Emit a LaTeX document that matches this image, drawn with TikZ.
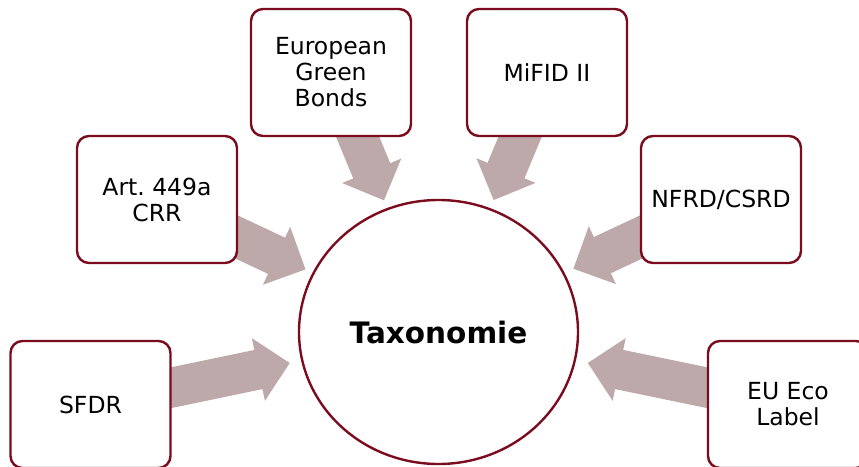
\documentclass[tikz,border=0pt]{standalone}
\usepackage{fontspec}
\setmainfont{DejaVu Sans}
\frenchspacing
\usetikzlibrary{calc,backgrounds,shapes.geometric}
\definecolor{boxred}{RGB}{123,12,30}
\definecolor{arrowrose}{RGB}{190,169,170}
\tikzset{
  srcbox/.style={draw=boxred, line width=2.4pt, fill=white, rounded corners=12pt,
    minimum width=160pt, minimum height=127pt, inner sep=0pt, align=center,
    font=\fontsize{23.5pt}{26pt}\selectfont},
  hub/.style={ellipse, draw=boxred, line width=2.4pt, fill=white,
    minimum width=279pt, minimum height=264pt, inner sep=0pt,
    font=\fontsize{29.5pt}{34pt}\selectfont\bfseries},
  arrowshaft/.style={draw=arrowrose, line width=40pt, line cap=butt},
  arrowhead/.style={fill=arrowrose}
}
\newcommand\blockarr[2]{%
  \coordinate (h#2) at ($(#2)!32pt!(#1.center)$);
  \draw[arrowshaft] (#1.center) -- ($(#2)!31pt!(#1.center)$);
  \fill[arrowhead] (#2) -- ($(h#2)!32pt!90:(#2)$) -- ($(h#2)!32pt!-90:(#2)$) -- cycle;
}
\begin{document}
\begin{tikzpicture}[x=1pt,y=-1pt]
\useasboundingbox (0,0) rectangle (859,466);
\node[hub] (tax) at (438.5,332) {Taxonomie};
\node[srcbox] (art) at (157,199.5) {Art. 449a\\CRR};
\node[srcbox] (sfdr) at (90.5,404.5) {SFDR};
\node[srcbox] (egb) at (331,72.5) {European\\Green\\Bonds};
\node[srcbox] (mifid) at (547,72.5) {MiFID II};
\node[srcbox] (nfrd) at (721,199.5) {NFRD/CSRD};
\node[srcbox] (eu) at (788,404.5) {EU Eco\\Label};
\coordinate (tArt) at ($(tax.center)!147pt!(art.center)$);
\coordinate (tSfdr) at ($(tax.center)!152pt!(sfdr.center)$);
\coordinate (tEgb) at ($(tax.center)!142.5pt!(egb.center)$);
\coordinate (tMifid) at ($(tax.center)!143pt!(mifid.center)$);
\coordinate (tNfrd) at ($(tax.center)!149pt!(nfrd.center)$);
\coordinate (tEu) at ($(tax.center)!152.5pt!(eu.center)$);
\begin{scope}[on background layer]
\blockarr{art}{tArt}
\blockarr{sfdr}{tSfdr}
\blockarr{egb}{tEgb}
\blockarr{mifid}{tMifid}
\blockarr{nfrd}{tNfrd}
\blockarr{eu}{tEu}
\end{scope}
\end{tikzpicture}
\end{document}
